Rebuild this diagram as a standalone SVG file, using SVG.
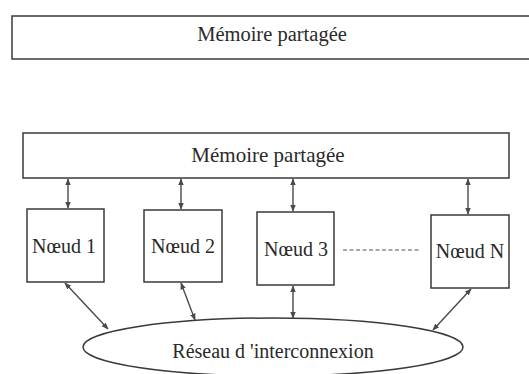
<svg xmlns="http://www.w3.org/2000/svg" width="529" height="374" viewBox="0 0 529 374">
<style>
.box{fill:#fff;stroke:#3a3a3a;stroke-width:1.5}
.lbl{font-family:"Liberation Serif","Times New Roman",serif;fill:#2a2a2a;text-anchor:middle}
.conn{stroke:#4a4a4a;stroke-width:1.4;fill:none;marker-start:url(#ah);marker-end:url(#ah)}
.dash{stroke:#555;stroke-width:1.1;stroke-dasharray:4 2.5;fill:none}
</style>
<defs>
<marker id="ah" viewBox="0 0 10 10" refX="9" refY="5" markerWidth="7" markerHeight="7" markerUnits="userSpaceOnUse" orient="auto-start-reverse">
<path d="M0,1 L10,5 L0,9 Z" fill="#4a4a4a"/>
</marker>
</defs>
<rect width="529" height="374" fill="#fff"/>
<g id="memoire-top">
<rect class="box" x="12" y="16" width="530" height="43"/>
<text class="lbl" x="272" y="41" font-size="20.5">Mémoire partagée</text>
</g>
<g id="memoire">
<rect class="box" x="23" y="133" width="486" height="45"/>
<text class="lbl" x="268" y="162" font-size="21">Mémoire partagée</text>
</g>
<g id="noeud1">
<rect class="box" x="27" y="209" width="77" height="73"/>
<text class="lbl" x="64" y="253" font-size="20">Nœud 1</text>
</g>
<g id="noeud2">
<rect class="box" x="144" y="210" width="78" height="72"/>
<text class="lbl" x="183" y="253" font-size="20">Nœud 2</text>
</g>
<g id="noeud3">
<rect class="box" x="257" y="212" width="77" height="73"/>
<text class="lbl" x="296" y="256" font-size="20">Nœud 3</text>
</g>
<g id="noeudN">
<rect class="box" x="431" y="215" width="78" height="73"/>
<text class="lbl" x="470" y="258" font-size="20">Nœud N</text>
</g>
<g id="reseau">
<ellipse class="box" cx="273" cy="347" rx="190" ry="29"/>
<text class="lbl" x="273" y="358" font-size="20">Réseau d 'interconnexion</text>
</g>
<g id="connectors">
<line class="conn" x1="68" y1="179" x2="68" y2="208"/>
<line class="conn" x1="181" y1="179" x2="181" y2="209"/>
<line class="conn" x1="293" y1="179" x2="293" y2="211"/>
<line class="conn" x1="468" y1="179" x2="468" y2="214"/>
<line class="conn" x1="65" y1="283" x2="108" y2="329"/>
<line class="conn" x1="181" y1="283" x2="195" y2="320"/>
<line class="conn" x1="293" y1="286" x2="293" y2="318"/>
<line class="conn" x1="471" y1="289" x2="433" y2="330"/>
<line class="dash" x1="343" y1="250" x2="420" y2="250"/>
</g>
</svg>
